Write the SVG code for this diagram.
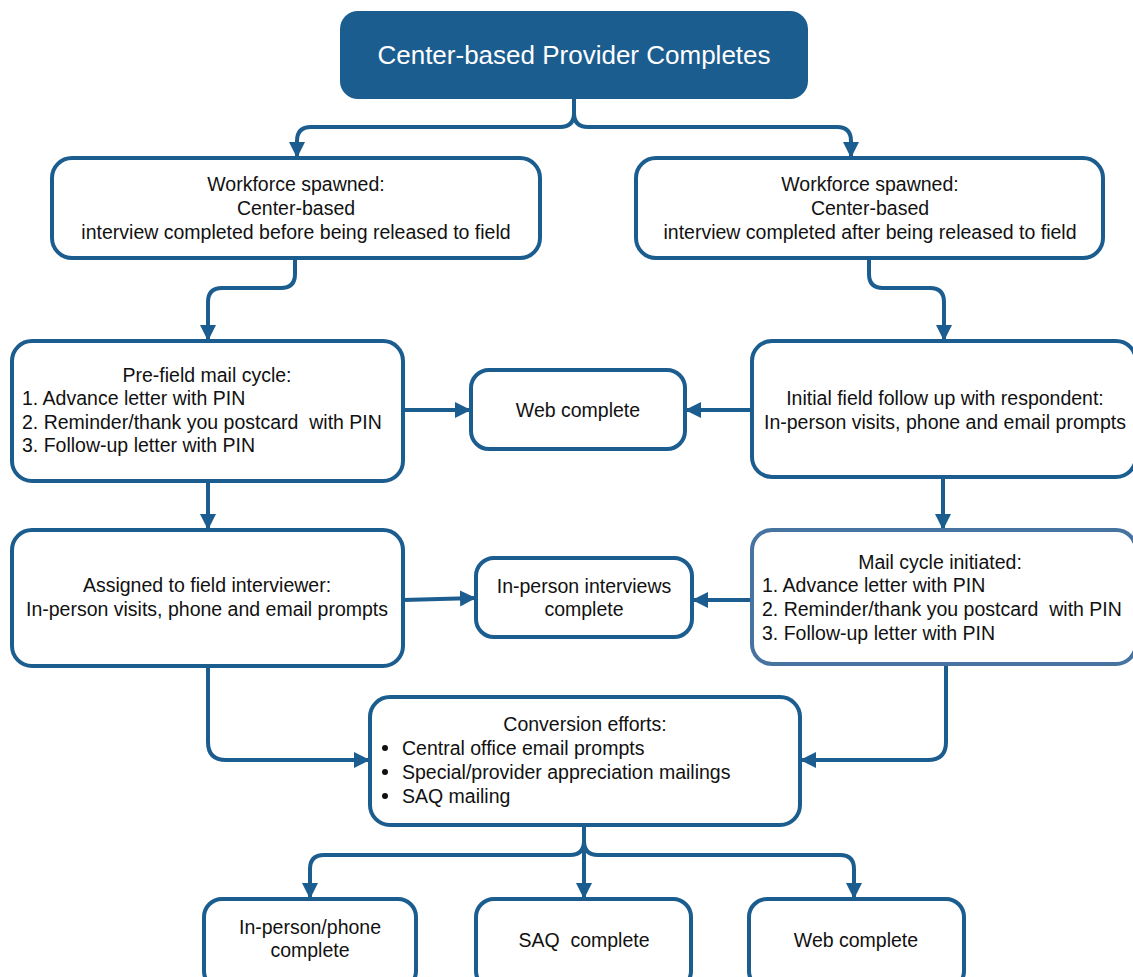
<svg xmlns="http://www.w3.org/2000/svg" width="1133" height="977" viewBox="0 0 1133 977">
  <style>
    .box { fill: #ffffff; stroke: #1c5d8f; stroke-width: 4; }
    .box-soft { fill: #ffffff; stroke: #46739f; stroke-width: 4; }
    .t { font-family: "Liberation Sans", Arial, sans-serif; font-size: 19.5px; fill: #111111; white-space: pre; }
    .c { text-anchor: middle; }
    .title { font-family: "Liberation Sans", Arial, sans-serif; font-size: 26px; fill: #ffffff; text-anchor: middle; }
    .link { fill: none; stroke: #1c5d8f; stroke-width: 4; }
  </style>
  <defs>
    <marker id="arrow" markerUnits="userSpaceOnUse" markerWidth="18" markerHeight="18" refX="16" refY="8" orient="auto">
      <path d="M0,0 L16,8 L0,16 z" fill="#1c5d8f"/>
    </marker>
  </defs>

  <rect width="1133" height="977" fill="#ffffff"/>

  <!-- connectors -->
  <g id="connectors">
    <path class="link" d="M574,99 V113 Q574,127 560,127 H311 Q297,127 297,141 V158" marker-end="url(#arrow)"/>
    <path class="link" d="M574,99 V113 Q574,127 588,127 H837 Q851,127 851,141 V158" marker-end="url(#arrow)"/>
    <path class="link" d="M295,258 V274 Q295,288 281,288 H222 Q208,288 208,302 V341" marker-end="url(#arrow)"/>
    <path class="link" d="M869,258 V274 Q869,288 883,288 H930 Q944,288 944,302 V341" marker-end="url(#arrow)"/>
    <path class="link" d="M403,410 H471" marker-end="url(#arrow)"/>
    <path class="link" d="M752,410 H685" marker-end="url(#arrow)"/>
    <path class="link" d="M208,481 V530" marker-end="url(#arrow)"/>
    <path class="link" d="M943,477 V530" marker-end="url(#arrow)"/>
    <path class="link" d="M403,600 L476,598" marker-end="url(#arrow)"/>
    <path class="link" d="M752,600 H692" marker-end="url(#arrow)"/>
    <path class="link" d="M208,666 V742 Q208,760 226,760 H370" marker-end="url(#arrow)"/>
    <path class="link" d="M946,664 V742 Q946,760 928,760 H800" marker-end="url(#arrow)"/>
    <path class="link" d="M584,825 V841 Q584,855 570,855 H324 Q310,855 310,869 V899" marker-end="url(#arrow)"/>
    <path class="link" d="M584,825 V899" marker-end="url(#arrow)"/>
    <path class="link" d="M584,841 Q584,855 598,855 H840 Q854,855 854,869 V899" marker-end="url(#arrow)"/>
  </g>

  <!-- top node -->
  <g id="provider-completes">
    <rect x="340" y="11" width="468" height="88" rx="18" fill="#1c5d8f"/>
    <text class="title" x="574" y="64">Center-based Provider Completes</text>
  </g>

  <g id="workforce-before">
    <rect class="box" x="52" y="158" width="488" height="100" rx="20"/>
    <text class="t c" x="296" y="191">Workforce spawned:</text>
    <text class="t c" x="296" y="215">Center-based</text>
    <text class="t c" x="296" y="239">interview completed before being released to field</text>
  </g>

  <g id="workforce-after">
    <rect class="box" x="636" y="158" width="467" height="100" rx="20"/>
    <text class="t c" x="870" y="191">Workforce spawned:</text>
    <text class="t c" x="870" y="215">Center-based</text>
    <text class="t c" x="870" y="239">interview completed after being released to field</text>
  </g>

  <g id="prefield-mail">
    <rect class="box" x="12" y="341" width="391" height="140" rx="20"/>
    <text class="t c" x="207" y="382">Pre-field mail cycle:</text>
    <text class="t" x="22" y="405">1. Advance letter with PIN</text>
    <text class="t" x="22" y="429">2. Reminder/thank you postcard  with PIN</text>
    <text class="t" x="22" y="452">3. Follow-up letter with PIN</text>
  </g>

  <g id="web-complete-top">
    <rect class="box" x="471" y="370" width="214" height="79" rx="18"/>
    <text class="t c" x="578" y="417">Web complete</text>
  </g>

  <g id="initial-field">
    <rect class="box" x="752" y="341" width="384" height="136" rx="20"/>
    <text class="t c" x="945" y="405">Initial field follow up with respondent:</text>
    <text class="t c" x="945" y="429">In-person visits, phone and email prompts</text>
  </g>

  <g id="field-interviewer">
    <rect class="box" x="12" y="530" width="391" height="136" rx="20"/>
    <text class="t c" x="207" y="592">Assigned to field interviewer:</text>
    <text class="t c" x="207" y="616">In-person visits, phone and email prompts</text>
  </g>

  <g id="inperson-complete">
    <rect class="box" x="476" y="558" width="216" height="79" rx="18"/>
    <text class="t c" x="584" y="593">In-person interviews</text>
    <text class="t c" x="584" y="616">complete</text>
  </g>

  <g id="mail-cycle">
    <rect class="box-soft" x="752" y="530" width="384" height="134" rx="20"/>
    <text class="t c" x="940" y="569">Mail cycle initiated:</text>
    <text class="t" x="762" y="592">1. Advance letter with PIN</text>
    <text class="t" x="762" y="616">2. Reminder/thank you postcard  with PIN</text>
    <text class="t" x="762" y="640">3. Follow-up letter with PIN</text>
  </g>

  <g id="conversion">
    <rect class="box" x="370" y="697" width="430" height="128" rx="20"/>
    <text class="t c" x="585" y="731">Conversion efforts:</text>
    <circle cx="385" cy="748" r="3" fill="#111111"/>
    <circle cx="385" cy="772" r="3" fill="#111111"/>
    <circle cx="385" cy="796" r="3" fill="#111111"/>
    <text class="t" x="402" y="755">Central office email prompts</text>
    <text class="t" x="402" y="779">Special/provider appreciation mailings</text>
    <text class="t" x="402" y="803">SAQ mailing</text>
  </g>

  <g id="inperson-phone-complete">
    <rect class="box" x="204" y="899" width="212" height="90" rx="18"/>
    <text class="t c" x="310" y="934">In-person/phone</text>
    <text class="t c" x="310" y="957">complete</text>
  </g>

  <g id="saq-complete">
    <rect class="box" x="476" y="899" width="215" height="90" rx="18"/>
    <text class="t c" x="584" y="947">SAQ  complete</text>
  </g>

  <g id="web-complete-bottom">
    <rect class="box" x="749" y="899" width="215" height="90" rx="18"/>
    <text class="t c" x="856" y="947">Web complete</text>
  </g>
</svg>
